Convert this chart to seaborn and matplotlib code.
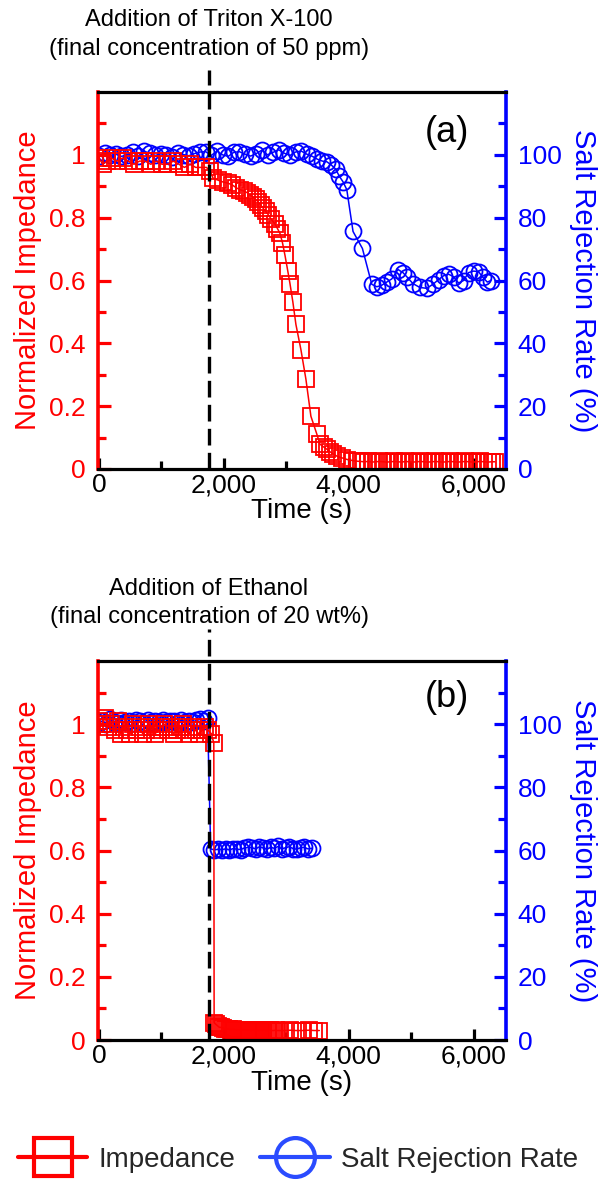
import matplotlib
matplotlib.use("Agg")
import matplotlib.pyplot as plt
import seaborn as sns
from matplotlib.lines import Line2D
from matplotlib.ticker import FixedLocator

# ---------------- data ----------------
# Panel (a): Triton X-100
time_a_imp = [0, 60, 130, 200, 290, 380, 470, 560, 650, 740, 830, 920, 1010, 1100, 1190, 1280, 1370, 1460, 1550, 1640, 1720,
              1780, 1830, 1900, 1980, 2060, 2130, 2200, 2260, 2320, 2370,
              2420, 2470, 2510, 2550, 2590, 2630, 2670, 2710, 2760, 2820,
              2860, 2900, 2940, 2980, 3025, 3060, 3105, 3155, 3235, 3315,
              3395, 3490, 3540, 3600, 3650, 3700, 3750, 3820, 3900, 3980,
              4060, 4130,
              4190, 4250, 4310, 4370, 4430, 4490, 4550, 4610, 4670, 4730,
              4790, 4850, 4910, 4970, 5030, 5090, 5150, 5210, 5270, 5330,
              5390, 5450, 5510, 5570, 5630, 5690, 5750, 5810, 5870, 5930,
              5990, 6050, 6110, 6170, 6230, 6290, 6340]
imp_a = [0.99, 0.97, 0.98, 0.99, 0.98, 0.99, 0.98, 0.97, 0.98, 0.98, 0.97, 0.98, 0.97, 0.97, 0.98, 0.97, 0.96, 0.97, 0.96, 0.96, 0.96,
         0.95, 0.925, 0.92, 0.914, 0.91, 0.905, 0.895, 0.889, 0.885, 0.88,
         0.872, 0.865, 0.858, 0.85, 0.84, 0.83, 0.82, 0.81, 0.795, 0.78,
         0.765, 0.75, 0.72, 0.68, 0.63, 0.59, 0.533, 0.46, 0.38, 0.286,
         0.168, 0.111, 0.079, 0.07, 0.063, 0.055, 0.048, 0.04, 0.035, 0.03,
         0.027, 0.025,
         0.024, 0.023, 0.024, 0.022, 0.023, 0.024, 0.023, 0.022, 0.023, 0.024,
         0.023, 0.022, 0.024, 0.023, 0.022, 0.023, 0.024, 0.023, 0.022, 0.023,
         0.024, 0.023, 0.022, 0.023, 0.024, 0.023, 0.022, 0.023, 0.024, 0.023,
         0.022, 0.023, 0.024, 0.023, 0.022, 0.023, 0.023]

time_a_salt = [0, 90, 180, 270, 360, 450, 540, 630, 720, 810, 900, 990, 1080, 1170, 1260, 1350, 1440, 1530, 1620, 1710,
               1800, 1890, 1980, 2070, 2160, 2250, 2340, 2430, 2520, 2610, 2700, 2790, 2880, 2970, 3060, 3150, 3240, 3330, 3420,
               3500, 3580, 3650, 3720, 3790, 3850, 3910, 3970,
               4070, 4220, 4370,
               4450, 4530, 4610, 4690, 4790, 4870, 4940, 5030, 5140, 5250, 5350, 5440, 5520, 5600, 5680, 5760,
               5840, 5920, 6000, 6080, 6150, 6220, 6280]
salt_a = [99.5, 100.5, 99.8, 100.2, 99.5, 100.0, 100.8, 99.6, 101.2, 100.5, 99.8, 100.3, 100.0, 99.4, 100.6, 100.1, 99.7, 100.4, 100.9, 101.0,
          99.8, 101.2, 100.0, 99.5, 100.8, 101.0, 100.2, 99.6, 100.4, 101.5, 100.0, 100.8, 101.6, 100.5, 99.8, 100.9, 101.2, 100.2, 99.5,
          98.6, 98.0, 97.8, 96.8, 95.5, 93.2, 91.4, 88.9,
          75.6, 70.2, 58.8,
          58.0, 58.5, 59.5, 60.5, 63.5, 62.5, 61.0, 59.0, 57.8, 57.5, 58.8, 60.3, 61.5, 62.0, 61.2, 59.2,
          60.0, 62.5, 63.0, 62.8, 61.0, 59.5, 60.0]

# Panel (b): Ethanol
time_b_imp = [0, 50, 100, 150, 200, 250, 300, 350, 400, 450, 500, 550, 600, 650, 700, 750, 800, 850, 900, 950,
              1000, 1050, 1100, 1150, 1200, 1250, 1300, 1350, 1400, 1450, 1500, 1550, 1600, 1650, 1700, 1750, 1800, 1840,
              1845, 1870, 1900, 1930, 1960, 1990, 2020, 2050, 2080, 2110, 2140, 2170, 2200, 2230, 2260, 2290, 2320, 2350,
              2380, 2410, 2440, 2470, 2500, 2530, 2560, 2590, 2620, 2650, 2680, 2710, 2740, 2770, 2800, 2830, 2860, 2890,
              2960, 3060, 3160, 3260, 3360, 3450, 3530]
imp_b = [1.01, 1.00, 1.02, 0.99, 1.00, 0.98, 1.01, 0.97, 0.99, 0.98, 0.97, 1.00, 0.98, 0.99, 0.97, 0.98, 1.00, 0.99, 0.97, 0.98,
         0.99, 1.00, 0.98, 0.99, 0.97, 0.98, 0.99, 1.00, 0.98, 0.97, 0.99, 0.98, 0.97, 0.98, 0.99, 0.98, 0.97, 0.94,
         0.055, 0.05, 0.045, 0.04, 0.04, 0.038, 0.036, 0.035, 0.034, 0.033, 0.034, 0.033, 0.032, 0.033, 0.032, 0.031, 0.032, 0.031,
         0.032, 0.031, 0.030, 0.031, 0.030, 0.031, 0.030, 0.031, 0.030, 0.031, 0.030, 0.030, 0.031, 0.030, 0.030, 0.031, 0.030, 0.030,
         0.030, 0.031, 0.030, 0.030, 0.031, 0.030, 0.030]

time_b_salt = [0, 60, 120, 180, 240, 300, 360, 420, 480, 540, 600, 660, 720, 780, 840, 900, 960, 1020, 1080, 1140,
               1200, 1260, 1320, 1380, 1440, 1500, 1560, 1620, 1680, 1740,
               1790, 1850, 1910, 1970, 2030, 2090, 2150, 2210, 2270, 2330, 2390, 2450, 2510, 2570,
               2630, 2690, 2750, 2810, 2870, 2930, 2990, 3050, 3110, 3170, 3230, 3290, 3350, 3410]
salt_b = [100.5, 101.0, 100.2, 101.5, 100.8, 100.3, 101.2, 100.6, 101.0, 100.4, 101.3, 100.9, 100.5, 101.4, 100.8, 101.0, 100.6, 101.2, 100.7, 101.1,
          100.9, 100.5, 101.3, 100.8, 101.0, 100.6, 101.2, 101.5, 101.0, 101.8,
          60.5, 60.2, 60.4, 60.3, 60.5, 60.2, 60.6, 60.4, 60.3, 60.8, 61.0, 60.9, 60.5, 61.2,
          60.8, 60.4, 61.0, 60.7, 61.3, 60.5, 60.9, 61.2, 60.6, 60.4, 60.9, 61.0, 60.5, 60.7]

x_ticks = [0, 2000, 4000, 6000]
x_tick_labels = ["0", "2,000", "4,000", "6,000"]
x_minor = [1000, 3000, 5000]
imp_ticks = [0, 0.2, 0.4, 0.6, 0.8, 1.0]
imp_tick_labels = ["0", "0.2", "0.4", "0.6", "0.8", "1"]
imp_minor = [0.1, 0.3, 0.5, 0.7, 0.9, 1.1]
salt_ticks = [0, 20, 40, 60, 80, 100]
salt_tick_labels = ["0", "20", "40", "60", "80", "100"]
salt_minor = [10, 30, 50, 70, 90, 110]

addition_time = 1760
notes_a = ["Addition of Triton X-100", "(final concentration of 50 ppm)"]
notes_b = ["Addition of Ethanol", "(final concentration of 20 wt%)"]

# ---------------- style ----------------
sns.set_theme(style="white")
plt.rcParams["font.family"] = ["Liberation Sans", "DejaVu Sans"]

RED = "#ff0000"
BLUE = "#0000ff"
W, H = 602, 1183
fig = plt.figure(figsize=(W / 100, H / 100), dpi=100)


def add_axes(left, top, right, bottom):
    return fig.add_axes([left / W, 1 - bottom / H, (right - left) / W, (bottom - top) / H])


panels = [
    dict(box=(98, 92, 506, 469), t_imp=time_a_imp, imp=imp_a, t_salt=time_a_salt, salt=salt_a,
         letter="(a)", letter_y=0.893, notes=notes_a, note_y=(18, 47), dash_top=1.27),
    dict(box=(98, 661, 506, 1040), t_imp=time_b_imp, imp=imp_b, t_salt=time_b_salt, salt=salt_b,
         letter="(b)", letter_y=0.905, notes=notes_b, note_y=(587, 615), dash_top=1.30),
]

for p in panels:
    ax = add_axes(*p["box"])
    ax2 = ax.twinx()
    ax.set_zorder(ax2.get_zorder() + 1)
    ax.patch.set_visible(False)

    sns.lineplot(x=p["t_salt"], y=p["salt"], ax=ax2, color=BLUE, marker="o", markersize=11.5,
                 markerfacecolor="none", markeredgecolor=BLUE, markeredgewidth=1.3,
                 linewidth=1.1, estimator=None, sort=False)
    sns.lineplot(x=p["t_imp"], y=p["imp"], ax=ax, color=RED, marker="s", markersize=11.5,
                 markerfacecolor="none", markeredgecolor=RED, markeredgewidth=1.3,
                 linewidth=1.1, estimator=None, sort=False)

    ax.plot([addition_time, addition_time], [0, p["dash_top"]], color="black", lw=2.4,
            ls=(0, (5, 2.2)), clip_on=False, zorder=10)

    ax.set_xlim(-15, 6520)
    ax.set_ylim(0, 1.2)
    ax2.set_ylim(0, 120)

    ax.set_xticks(x_ticks)
    ax.set_xticklabels(x_tick_labels)
    ax.xaxis.set_minor_locator(FixedLocator(x_minor))
    ax.set_yticks(imp_ticks)
    ax.set_yticklabels(imp_tick_labels)
    ax.yaxis.set_minor_locator(FixedLocator(imp_minor))
    ax2.set_yticks(salt_ticks)
    ax2.set_yticklabels(salt_tick_labels)
    ax2.yaxis.set_minor_locator(FixedLocator(salt_minor))

    ax.tick_params(axis="x", which="both", direction="in", colors="black", labelsize=19, width=2.3, pad=3,
                   bottom=True, top=False)
    ax.tick_params(axis="x", which="major", length=8)
    ax.tick_params(axis="x", which="minor", length=5.5)
    ax.tick_params(axis="y", which="both", direction="in", colors=RED, labelsize=19, width=2.3, pad=9,
                   left=True, right=False)
    ax.tick_params(axis="y", which="major", length=9)
    ax.tick_params(axis="y", which="minor", length=6)
    ax2.tick_params(axis="y", which="both", direction="in", colors=BLUE, labelsize=19, width=2.3, pad=8.5,
                    right=True, left=False)
    ax2.tick_params(axis="y", which="major", length=9)
    ax2.tick_params(axis="y", which="minor", length=6)

    for name, sp in ax.spines.items():
        sp.set_linewidth(2.3)
        sp.set_color("black")
    ax.spines["left"].set_color(RED)
    ax.spines["left"].set_linewidth(2.6)
    ax.spines["right"].set_visible(False)
    for name, sp in ax2.spines.items():
        sp.set_visible(name == "right")
    ax2.spines["right"].set_color(BLUE)
    ax2.spines["right"].set_linewidth(2.6)

    ax.set_xlabel("Time (s)", fontsize=20, color="black")
    ax.xaxis.set_label_coords(0.5, -0.078)
    ax.set_ylabel("Normalized Impedance", fontsize=21, color=RED)
    ax.yaxis.set_label_coords(-0.137, 0.5)
    ax2.set_ylabel("Salt Rejection Rate (%)", fontsize=21, color=BLUE, rotation=270, va="bottom")
    ax2.yaxis.set_label_coords(1.155, 0.5)

    ax.text(0.855, p["letter_y"], p["letter"], transform=ax.transAxes, ha="center", va="center",
            fontsize=26, color="black")

    for txt, yy in zip(p["notes"], p["note_y"]):
        fig.text(209 / W, 1 - (yy + 2) / H, txt, ha="center", va="center", fontsize=17, color="black")

handles = [
    Line2D([], [], color=RED, marker="s", markersize=28, markerfacecolor="none",
           markeredgecolor=RED, markeredgewidth=3, linewidth=3),
    Line2D([], [], color="#2a4bff", marker="o", markersize=28, markerfacecolor="none",
           markeredgecolor="#2a4bff", markeredgewidth=3, linewidth=3),
]
fig.legend(handles, ["Impedance", "Salt Rejection Rate"], loc="center", bbox_to_anchor=(0.495, 1 - 1160 / H),
           ncol=2, frameon=False, fontsize=20, handlelength=2.5, handletextpad=0.4, columnspacing=0.9,
           numpoints=1)

fig.savefig("out.png", dpi=100)
